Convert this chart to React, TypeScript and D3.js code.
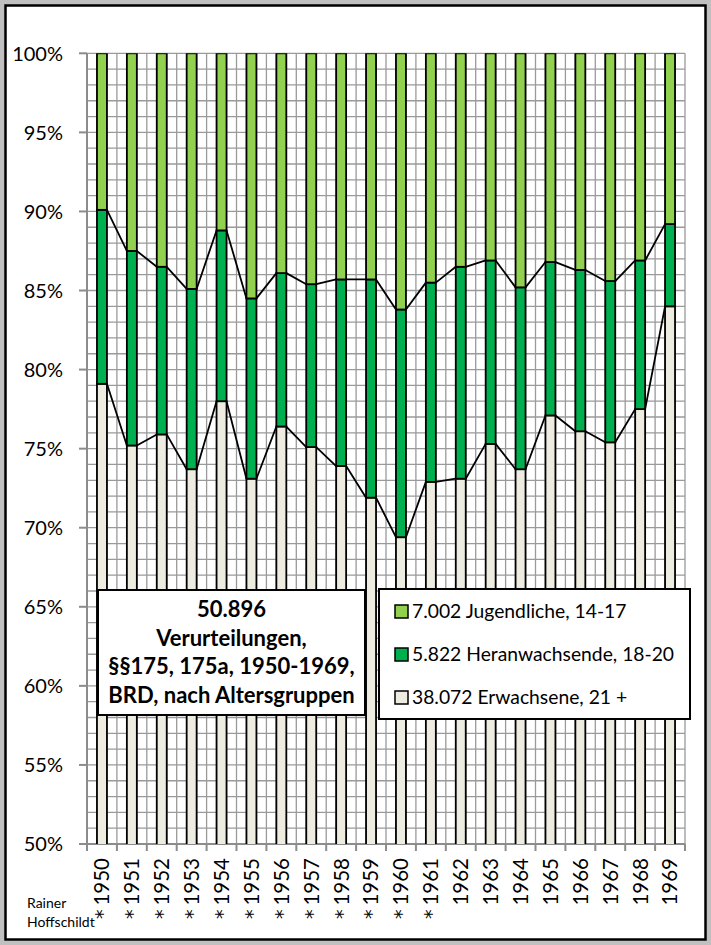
import React from "react";
import * as d3 from "d3";

const years = ["1950","1951","1952","1953","1954","1955","1956","1957","1958","1959","1960","1961","1962","1963","1964","1965","1966","1967","1968","1969"];
const starred = [true,true,true,true,true,true,true,true,true,true,true,true,false,false,false,false,false,false,false,false];
// shares in percent
const erwachsene = [79.1,75.2,75.9,73.7,78.0,73.1,76.4,75.1,73.9,71.9,69.4,72.9,73.1,75.3,73.7,77.1,76.1,75.4,77.5,84.0];
const heranwachsende = [11.0,12.3,10.6,11.4,10.8,11.4,9.7,10.3,11.8,13.8,14.4,12.6,13.4,11.6,11.5,9.7,10.2,10.2,9.4,5.2];
const jugendliche = [9.9,12.5,13.5,14.9,11.2,15.5,13.9,14.6,14.3,14.3,16.2,14.5,13.5,13.1,14.8,13.2,13.7,14.4,13.1,10.8];
const yTicks = [50,55,60,65,70,75,80,85,90,95,100];
const seriesKeys = ["erw","her","jug"];
const seriesColors = ["#EEECE1","#00B050","#92D050"];
const legendLabels = ["7.002 Jugendliche, 14-17","5.822 Heranwachsende, 18-20","38.072 Erwachsene, 21 +"];
const legendColors = ["#92D050","#00B050","#EEECE1"];
const titleLines = ["50.896","Verurteilungen,","§§175, 175a, 1950-1969,","BRD, nach Altersgruppen"];
const creditLines = ["Rainer","Hoffschildt"];

const W = 711, H = 945;
const L = 87, R = 685, T = 53.3, B = 844;
const FONT = "Lato, 'Open Sans', sans-serif";

export default function App() {
  const table = years.map((yr, i) => ({ year: yr, erw: erwachsene[i], her: heranwachsende[i], jug: jugendliche[i] }));
  const stack = d3.stack<any>().keys(seriesKeys)(table);
  const x = d3.scaleBand<string>().domain(years).range([L, R]).paddingInner(2 / 3).paddingOuter(1 / 3);
  const y = d3.scaleLinear().domain([50, 100]).range([B, T]);
  const xu = d3.scaleLinear().domain([0, years.length]).range([L, R]);
  const bw = x.bandwidth();
  const hGrid = d3.range(50, 101, 1);
  const vGrid = d3.range(0, years.length * 3 + 1).map((k) => xu(k / 3));
  const catTicks = d3.range(0, years.length + 1).map((k) => xu(k));

  const seriesLines: string[] = [];
  [0, 1].forEach((li) => {
    const layer = stack[li];
    const p = d3.path();
    for (let i = 0; i < years.length - 1; i++) {
      p.moveTo(x(years[i])! + bw, y(layer[i][1]));
      p.lineTo(x(years[i + 1])!, y(layer[i + 1][1]));
    }
    seriesLines.push(p.toString());
  });

  return (
    <div style={{ position: "absolute", left: 0, top: 0 }}>
      <svg width={W} height={H} style={{ display: "block" }} fontFamily={FONT}>
        <rect x={0} y={0} width={W} height={H} fill="#c0c0c0" />
        <rect x={5.5} y={5.5} width={700} height={934} fill="#fff" stroke="#000" strokeWidth={2.5} />
        <defs>
          <clipPath id="plot"><rect x={L} y={T} width={R - L} height={B - T} /></clipPath>
        </defs>
        {/* grid */}
        <g stroke="#9a9a9a" strokeWidth={1.3}>
          {hGrid.map((v) => <line key={"h" + v} x1={L} x2={R} y1={y(v)} y2={y(v)} />)}
          {vGrid.map((vx, k) => <line key={"v" + k} x1={vx} x2={vx} y1={T} y2={B} />)}
        </g>
        {/* axes */}
        <g stroke="#8c8c8c" strokeWidth={2}>
          <line x1={L} x2={L} y1={T} y2={B} />
          <line x1={L} x2={R} y1={B} y2={B} />
          {yTicks.map((v) => <line key={"yt" + v} x1={L - 8} x2={L} y1={y(v)} y2={y(v)} />)}
          {catTicks.map((cx, k) => <line key={"xt" + k} x1={cx} x2={cx} y1={B} y2={B + 7} />)}
        </g>
        {yTicks.map((v) => (
          <text key={"yl" + v} x={63} y={y(v)} dy="0.36em" textAnchor="end" fontSize={20} fill="#000">{v}%</text>
        ))}
        {/* bars */}
        <g clipPath="url(#plot)">
          {stack.map((layer, li) => (
            <g key={li} fill={seriesColors[li]} stroke="#000" strokeWidth={1.8}>
              {layer.map((d, i) => (
                <rect key={i} x={x(years[i])!} width={bw} y={y(d[1])} height={y(d[0]) - y(d[1])} />
              ))}
            </g>
          ))}
        </g>
        {seriesLines.map((d, i) => <path key={"sl" + i} d={d} fill="none" stroke="#000" strokeWidth={1.8} />)}
        {/* x labels */}
        {years.map((yr, i) => {
          const cx = x(yr)! + bw / 2 + 7.4;
          return (
            <text key={"xl" + i} transform={`translate(${cx},858) rotate(-90)`} textAnchor="end" fontSize={20.5} fill="#000">
              {starred[i] ? <tspan fontFamily="'DejaVu Sans', sans-serif" fontSize={19} dx={0}>*</tspan> : null}
              <tspan dx={starred[i] ? 4 : 0}>{yr}</tspan>
            </text>
          );
        })}
        {/* credit */}
        {creditLines.map((c, i) => (
          <text key={"cr" + i} x={27} y={908 + i * 19} fontSize={14} fill="#000">{c}</text>
        ))}
        {/* title box */}
        <rect x={98} y={590} width={267} height={125} fill="#fff" stroke="#000" strokeWidth={2} />
        {titleLines.map((t, i) => (
          <text key={"t" + i} x={231.5} y={617 + i * 28.5} textAnchor="middle" fontSize={22} fontWeight="bold" fill="#000">{t}</text>
        ))}
        {/* legend */}
        <rect x={379} y={589} width={311} height={130} fill="#fff" stroke="#000" strokeWidth={2} />
        {legendLabels.map((t, i) => (
          <g key={"lg" + i}>
            <rect x={395} y={605 + i * 43} width={13} height={13} fill={legendColors[i]} stroke="#000" strokeWidth={1.5} />
            <text x={412} y={618 + i * 43} fontSize={19.3} fill="#000">{t}</text>
          </g>
        ))}
      </svg>
    </div>
  );
}
